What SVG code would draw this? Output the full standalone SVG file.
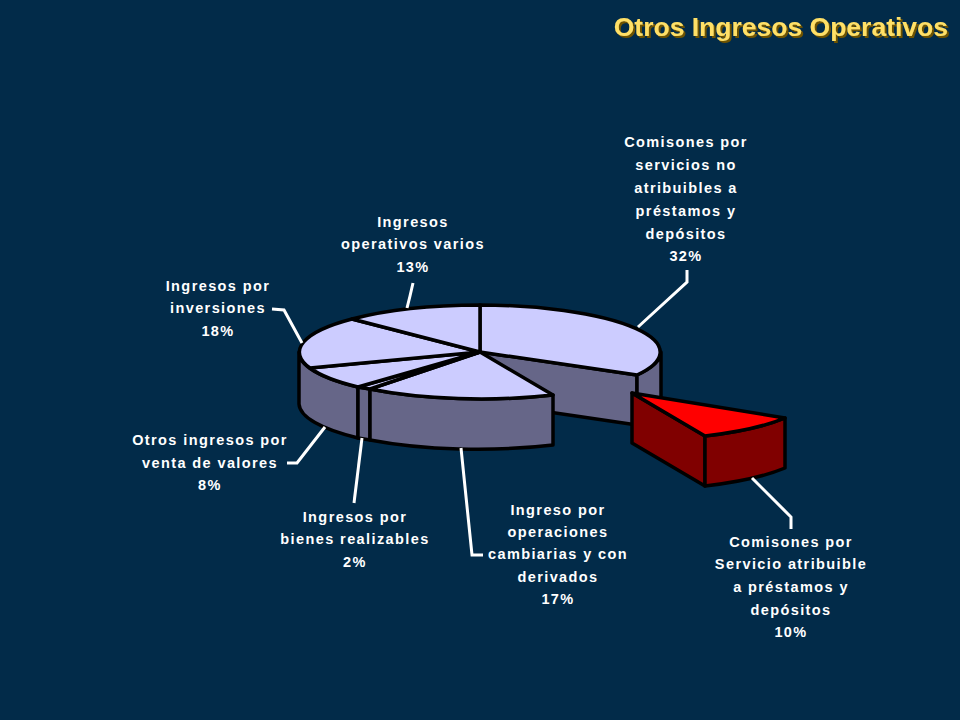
<svg xmlns="http://www.w3.org/2000/svg" width="960" height="720" viewBox="0 0 960 720">
<defs>
<filter id="shadow" x="-5%" y="-20%" width="110%" height="150%">
<feDropShadow dx="2" dy="2" stdDeviation="0" flood-color="#6E5200" flood-opacity="1"/>
</filter>
</defs>
<style>
.top{fill:#CCCCFF;stroke:#000;stroke-width:3.5;stroke-linejoin:round}
.wall{fill:#666688;stroke:#000;stroke-width:3.5;stroke-linejoin:round}
.rtop{fill:#FF0000;stroke:#000;stroke-width:3.5;stroke-linejoin:round}
.rwall{fill:#800000;stroke:#000;stroke-width:3.5;stroke-linejoin:round}
.lead{fill:none;stroke:#FFFFFF;stroke-width:3;stroke-linejoin:miter}
.lbl{font-family:"Liberation Sans",Arial,sans-serif;font-weight:bold;font-size:14.5px;letter-spacing:1.4px;fill:#FFFFFF;text-anchor:middle}
.title{font-family:"Liberation Sans",Arial,sans-serif;font-weight:bold;font-size:26.5px;text-anchor:end;fill:#FFE066}
</style>
<rect x="0" y="0" width="960" height="720" fill="#022B49"/>
<g id="title">
<text class="title" x="948" y="36" filter="url(#shadow)">Otros Ingresos Operativos</text>
</g>
<g id="pie">
<g id="walls">
<path class="wall" d="M480,352 L637,375 L637,425 L480,402 Z"/>
<path class="wall" d="M661,352 L661,402 A181,47 0 0 1 637,425 L637,375 A181,47 0 0 0 661,352 Z"/>
<path class="wall" d="M299,352 L299,404 A181,47 0 0 0 358,438 L358,387 A181,47 0 0 1 299,352 Z"/>
<path class="wall" d="M358,387 A181,47 0 0 0 370,389 L370,440 A181,47 0 0 1 358,438 Z"/>
<path class="wall" d="M370,389 A181,47 0 0 0 553,395 L553,445 A181,47 0 0 1 370,440 Z"/>
</g>
<g id="slice-32">
<path class="top" d="M480,352 L480,305 A181,47 0 0 1 637,375 Z"/>
</g>
<g id="slice-17">
<path class="top" d="M480,352 L553,395 A181,47 0 0 1 370,389 Z"/>
</g>
<g id="slice-2">
<path class="top" d="M480,352 L370,389 A181,47 0 0 1 358,387 Z"/>
</g>
<g id="slice-8">
<path class="top" d="M480,352 L358,387 A181,47 0 0 1 310,368 Z"/>
</g>
<g id="slice-18">
<path class="top" d="M480,352 L310,368 A181,47 0 0 1 352,319 Z"/>
</g>
<g id="slice-13">
<path class="top" d="M480,352 L352,319 A181,47 0 0 1 480,305 Z"/>
</g>
<g id="slice-10">
<path class="rwall" d="M632,393 L705,436 L705,486 L632,443 Z"/>
<path class="rwall" d="M705,436 A181,47 0 0 0 785,418 L785,468 A181,47 0 0 1 705,486 Z"/>
<path class="rtop" d="M632,393 L705,436 A181,47 0 0 0 785,418 Z"/>
</g>
</g>
<g id="connectors">
<polyline class="lead" points="638,327 687,282 687,270"/>
<polyline class="lead" points="407,308 410,296 413,283"/>
<polyline class="lead" points="272,309 284,310 302,343"/>
<polyline class="lead" points="325,427 297,463 287,463"/>
<polyline class="lead" points="362,438 354,503"/>
<polyline class="lead" points="461,448 472,555 483,555"/>
<polyline class="lead" points="752,478 791,517 791,529"/>
</g>
<g id="label-32">
<text class="lbl" x="686" y="147">Comisones por</text>
<text class="lbl" x="686" y="170">servicios no</text>
<text class="lbl" x="686" y="193">atribuibles a</text>
<text class="lbl" x="686" y="216">préstamos y</text>
<text class="lbl" x="686" y="239">depósitos</text>
<text class="lbl" x="686" y="261">32%</text>
</g>
<g id="label-13">
<text class="lbl" x="413" y="227">Ingresos</text>
<text class="lbl" x="413" y="249">operativos varios</text>
<text class="lbl" x="413" y="272">13%</text>
</g>
<g id="label-18">
<text class="lbl" x="218" y="291">Ingresos por</text>
<text class="lbl" x="218" y="313">inversiones</text>
<text class="lbl" x="218" y="336">18%</text>
</g>
<g id="label-8">
<text class="lbl" x="210" y="445">Otros ingresos por</text>
<text class="lbl" x="210" y="468">venta de valores</text>
<text class="lbl" x="210" y="490">8%</text>
</g>
<g id="label-2">
<text class="lbl" x="355" y="522">Ingresos por</text>
<text class="lbl" x="355" y="544">bienes realizables</text>
<text class="lbl" x="355" y="567">2%</text>
</g>
<g id="label-17">
<text class="lbl" x="558" y="515">Ingreso por</text>
<text class="lbl" x="558" y="537">operaciones</text>
<text class="lbl" x="558" y="559">cambiarias y con</text>
<text class="lbl" x="558" y="582">derivados</text>
<text class="lbl" x="558" y="604">17%</text>
</g>
<g id="label-10">
<text class="lbl" x="791" y="547">Comisones por</text>
<text class="lbl" x="791" y="569">Servicio atribuible</text>
<text class="lbl" x="791" y="592">a préstamos y</text>
<text class="lbl" x="791" y="615">depósitos</text>
<text class="lbl" x="791" y="637">10%</text>
</g>
</svg>
